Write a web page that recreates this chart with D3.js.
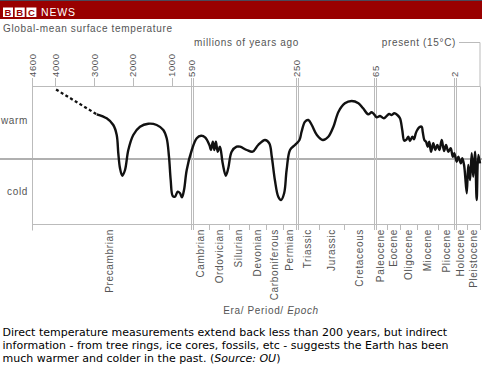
<!DOCTYPE html>
<html>
<head>
<meta charset="utf-8">
<script src="https://cdn.jsdelivr.net/npm/d3@7"></script>
<style>
  body { margin: 0; background: #fff; }
  svg { display: block; }
  .lbl { font-family: "Liberation Sans", Arial, sans-serif; fill: #555; letter-spacing: 0.65px; }
  .cap { font-family: "DejaVu Sans", Verdana, sans-serif; font-size: 11px; fill: #000; }
</style>
</head>
<body>
<div id="chart"></div>
<script>
// ages in millions of years ago
var topTicks = [4600, 4000, 3000, 2000, 1000, 590, 250, 65, 2];
var eraBreaks = [590, 250, 65, 2];

var periodNames = ["Precambrian", "Cambrian", "Ordovician", "Silurian", "Devonian", "Carboniferous",
	"Permian", "Triassic", "Jurassic", "Cretaceous", "Paleocene", "Eocene", "Oligocene",
	"Miocene", "Pliocene", "Holocene", "Pleistocene"];
var periodBounds = [4600, 590, 532, 468, 405, 349, 295, 250, 196, 138, 65, 55.5, 45, 32, 15, 2, 1, 0];

// relative temperature (0 = present), uncertain early part drawn dotted
var dottedPart = [[3980, 6.95], [2933, 4.47]];

var tempCurve = [
	[2933, 4.47], [2675, 4.07], [2505, 3.4], [2417, 2.4], [2376, 0.57], [2332, -0.93], [2273, -1.67],
	[2203, -1.1], [2118, 0.9], [1990, 2.4], [1817, 3.23], [1603, 3.53], [1386, 3.4], [1216, 2.9],
	[1129, 2.07], [1070, 0.23], [1026, -2.1], [979, -3.7], [932, -3.77], [876, -3.27], [828, -3.43],
	[787, -3.83], [745, -3.1], [689, -1.1], [589, 0.9], [573, 2.07], [559, 2.33], [546, 2.17],
	[532, 1.4], [527, 0.9], [521, 1.73], [516, 0.9], [511, 1.73], [505, 0.73], [498, 1.23],
	[489, -0.43], [479, -1.67], [471, -0.93], [460, 0.73], [444, 1.23], [433, 1.23], [411, 0.9],
	[392, 0.73], [374, 1.4], [352, 1.9], [338, 1.57], [330, 0.23], [320, -2.1], [309, -3.77],
	[300, -4.1], [290, -3.43], [282, -1.1], [271, 0.9], [255, 1.4], [243, 1.9], [238, 2.73],
	[230, 3.73], [222, 3.9], [214, 3.4], [202, 2.4], [188, 1.9], [175, 2.23], [163, 3.23],
	[151, 4.73], [136, 5.57], [120, 5.8], [104, 5.57], [93, 5.07], [81, 4.47], [73, 4.67],
	[67, 4.47], [63.7, 4.17], [61, 4.3], [57.9, 4.07], [53.9, 4.5], [51.8, 4.4], [49.7, 4.57],
	[47.3, 4.4], [45.2, 4.07], [43.4, 2.9], [41.8, 1.83], [39.9, 1.97], [38.6, 2.23], [37.3, 1.8],
	[35.4, 2.23], [34.1, 1.97], [32.7, 2.57], [31.5, 2.9], [29.9, 3.17], [28, 3.23], [27.2, 2.73],
	[25.9, 1.9], [24.6, 1.73], [23.2, 1.23], [22, 1.73], [20.6, 0.73], [18.8, 1.57], [17.2, 0.9],
	[15.6, 1.4], [14, 0.9], [12.1, 1.9], [10.3, 0.8], [8.7, 1.4], [6.9, 0.73], [5, 1.07],
	[3.4, 0.23], [2.2, 0.57], [1.83, -0.27], [1.7, 0.23], [1.51, -0.43], [1.39, 0.07], [1.25, -0.6],
	[1.18, -1.43], [1.04, -3.43], [0.92, -0.6], [0.78, -2.1], [0.65, 0.57], [0.53, -1.77],
	[0.39, 0.73], [0.26, -4.1], [0.13, 0.4], [0, -0.43]
];

var captionLines = [
	[["Direct temperature measurements extend back less than 200 years, but indirect", false]],
	[["information - from tree rings, ice cores, fossils, etc - suggests the Earth has been", false]],
	[["much warmer and colder in the past. (", false], ["Source: OU", true], [")", false]]
];

var width = 482, height = 385;
var svg = d3.select("#chart").append("svg").attr("width", width).attr("height", height);

var GRID = "#bbb";
var TOP = 86, BOTTOM = 224, LEFT = 32, RIGHT = 480;

// piecewise time axis, each era stretched
var x = d3.scaleLinear()
	.domain([4600, 1000, 590, 250, 65, 2, 0])
	.range([LEFT, 171.7, 191.5, 296.5, 375, 454.5, RIGHT]);
var y = d3.scaleLinear().domain([-6.5, 7.3]).range([BOTTOM, TOP]);

// header bar
svg.append("rect").attr("x", 0).attr("y", 0).attr("width", width).attr("height", 19).style("fill", "#990000");
svg.append("rect").attr("x", 0).attr("y", 0).attr("width", width).attr("height", 1).style("fill", "#4a4a5a");
["B", "B", "C"].forEach(function (d, i) {
	svg.append("rect").attr("x", 3 + i * 11.7).attr("y", 7.5).attr("width", 10).attr("height", 9.5).style("fill", "#fff");
	svg.append("text").text(d).attr("x", 8 + i * 11.7).attr("y", 15.8)
		.style("font-family", "Liberation Sans, Arial").style("font-weight", 700).style("font-size", "9.5px")
		.style("fill", "#990000").style("text-anchor", "middle");
});
svg.append("text").text("NEWS").attr("x", 41).attr("y", 16.3)
	.style("font-family", "Liberation Sans, Arial").style("font-size", "10.5px")
	.style("letter-spacing", "0.8px").style("fill", "#fff");

svg.append("text").attr("class", "lbl").text("Global-mean surface temperature")
	.attr("x", 3).attr("y", 32.3).style("font-size", "10px");
svg.append("text").attr("class", "lbl").text("millions of years ago")
	.attr("x", 246.5).attr("y", 45.7).style("font-size", "10px").style("text-anchor", "middle");
svg.append("text").attr("class", "lbl").text("present (15°C)")
	.attr("x", 456).attr("y", 45.7).style("font-size", "10px").style("text-anchor", "end");
svg.append("path").attr("d", `M459,42.5H${ RIGHT }V${ TOP }`)
	.style("fill", "none").style("stroke", GRID).style("stroke-width", 1);

// frame
svg.append("path")
	.attr("d", `M${ LEFT },${ TOP - 8 }V${ BOTTOM + 6 }M${ LEFT },${ TOP }H${ RIGHT }V${ BOTTOM }H${ LEFT }`)
	.attr("transform", "translate(0.5,0.5)")
	.style("fill", "none").style("stroke", GRID).style("stroke-width", 1);

// midline (present temperature)
svg.append("line").attr("x1", 0).attr("x2", width).attr("y1", y(0)).attr("y2", y(0))
	.style("stroke", "#b0b0b0").style("stroke-width", 2);

// era separators, drawn as double lines
var gEra = svg.append("g").attr("transform", "translate(0.5,0)");
eraBreaks.forEach(function (d) {
	[-1, 1].forEach(function (o) {
		gEra.append("line").attr("x1", Math.round(x(d)) + o).attr("x2", Math.round(x(d)) + o)
			.attr("y1", TOP - 8).attr("y2", BOTTOM + 6)
			.style("stroke", GRID).style("stroke-width", 1);
	});
});

// top ticks
var gTop = svg.append("g").attr("transform", "translate(0.5,0)");
gTop.selectAll(".tt").data(topTicks.filter(function (d) { return eraBreaks.indexOf(d) < 0; }))
	.enter().append("line")
	.attr("x1", function (d) { return Math.round(x(d)); }).attr("x2", function (d) { return Math.round(x(d)); })
	.attr("y1", TOP - 8).attr("y2", TOP)
	.style("stroke", GRID);

svg.selectAll(".tl").data(topTicks).enter().append("text")
	.attr("class", "lbl")
	.text(function (d) { return d; })
	.attr("transform", function (d) { return `translate(${ x(d) + 3.5 },77) rotate(-90)`; })
	.style("font-size", "9.5px");

// period ticks along the bottom
svg.append("g").attr("transform", "translate(0.5,0)")
	.selectAll(".bt").data(periodBounds.filter(function (d) { return eraBreaks.indexOf(d) < 0 && d !== 4600; }))
	.enter().append("line")
	.attr("x1", function (d) { return Math.round(x(d)); }).attr("x2", function (d) { return Math.round(x(d)); })
	.attr("y1", BOTTOM).attr("y2", BOTTOM + 6)
	.style("stroke", GRID);

svg.selectAll(".pl").data(periodNames).enter().append("text")
	.attr("class", "lbl")
	.text(function (d) { return d; })
	.attr("transform", function (d, i) {
		var mid = x((periodBounds[i] + periodBounds[i + 1]) / 2);
		return `translate(${ mid + 3.5 },229) rotate(-90)`;
	})
	.style("font-size", "10px").style("text-anchor", "end");

var era = svg.append("text").attr("class", "lbl").attr("x", 271).attr("y", 314)
	.style("font-size", "10px").style("text-anchor", "middle");
era.append("tspan").text("Era/ Period/ ");
era.append("tspan").text("Epoch").style("font-style", "italic");

svg.append("text").attr("class", "lbl").text("warm").attr("x", 28).attr("y", 123.7)
	.style("font-size", "10px").style("text-anchor", "end");
svg.append("text").attr("class", "lbl").text("cold").attr("x", 28).attr("y", 195)
	.style("font-size", "10px").style("text-anchor", "end");

// temperature curve
var line = d3.line()
	.x(function (d) { return x(d[0]); })
	.y(function (d) { return y(d[1]); })
	.curve(d3.curveCatmullRom.alpha(0.5));

svg.append("path").datum(dottedPart).attr("d", d3.line().x(function (d) { return x(d[0]); }).y(function (d) { return y(d[1]); }))
	.style("fill", "none").style("stroke", "#111").style("stroke-width", 2.3).style("stroke-dasharray", "3,2.5");

svg.append("path").datum(tempCurve).attr("d", line)
	.style("fill", "none").style("stroke", "#111").style("stroke-width", 2.4)
	.style("stroke-linejoin", "round");

// caption
captionLines.forEach(function (parts, i) {
	var t = svg.append("text").attr("class", "cap").attr("x", 2.5).attr("y", 335.5 + i * 13);
	parts.forEach(function (p) {
		t.append("tspan").text(p[0]).style("font-style", p[1] ? "italic" : "normal");
	});
});
</script>
</body>
</html>
